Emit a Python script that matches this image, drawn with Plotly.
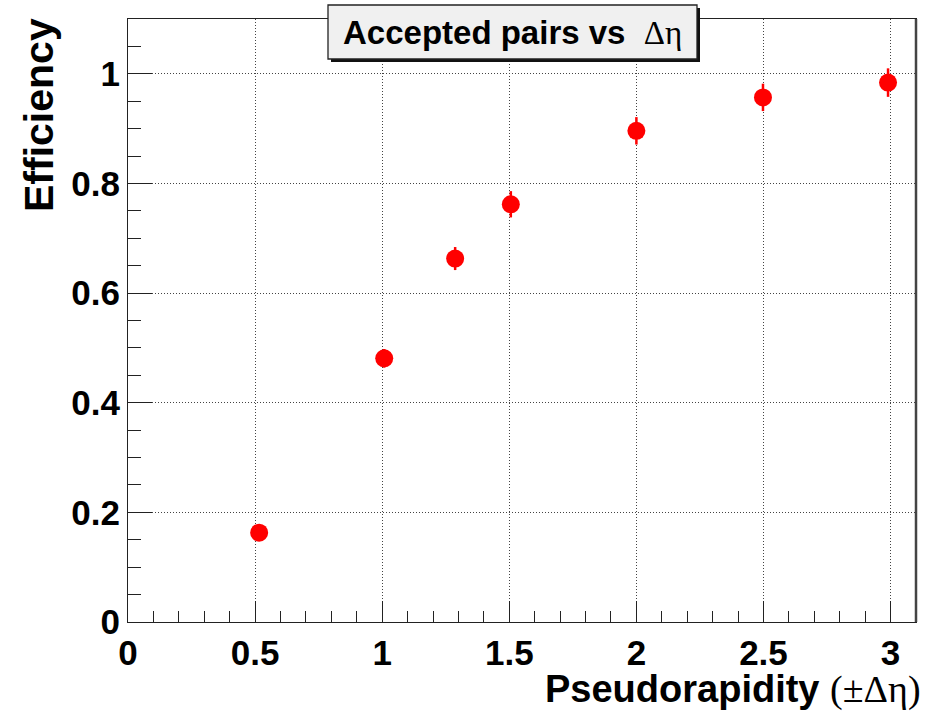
import plotly.graph_objects as go

# Data
eta_cut = [0.516, 1.008, 1.287, 1.506, 2.0, 2.498, 2.99]
efficiency = [0.163, 0.481, 0.663, 0.762, 0.896, 0.957, 0.984]
eff_err = [0.013, 0.017, 0.021, 0.024, 0.025, 0.025, 0.026]

x_ticks = [0, 0.5, 1, 1.5, 2, 2.5, 3]
x_tick_labels = ["0", "0.5", "1", "1.5", "2", "2.5", "3"]
y_ticks = [0, 0.2, 0.4, 0.6, 0.8, 1.0]
y_tick_labels = ["0", "0.2", "0.4", "0.6", "0.8", "1"]

W, H = 927, 712
L, R, T, B = 128, 916, 19, 622  # plot area in pixels

def px(x):
    return (x - L) / (R - L)

def py(y):
    return (B - y) / (B - T)

FONT = "Liberation Sans, Arial, Helvetica, sans-serif"
SERIF = "Liberation Serif, Times New Roman, serif"

fig = go.Figure()
fig.add_trace(go.Scatter(
    x=eta_cut, y=efficiency, mode="markers",
    marker=dict(color="#ff0000", size=18, line=dict(width=0)),
    error_y=dict(type="data", array=eff_err, visible=True,
                 color="#ff0000", thickness=2.5, width=0),
    showlegend=False,
))

axis_common = dict(
    showline=True, linecolor="#222222", linewidth=1.3, mirror=True,
    ticks="inside", tickcolor="#222222", tickwidth=1.3,
    showgrid=True, gridcolor="#444444", gridwidth=1, griddash="1px,2px",
    zeroline=False, automargin=False,
    tickfont=dict(family=FONT, size=35, color="black", weight="bold"),
    tickmode="array",
)

fig.update_xaxes(
    range=[0, 3.1], tickvals=x_ticks, ticktext=x_tick_labels,
    ticklen=21,
    minor=dict(dtick=0.1, ticks="inside", ticklen=11, tickcolor="#222222",
               tickwidth=1.3, showgrid=False),
    **axis_common,
)
fig.update_yaxes(
    range=[0, 1.1], tickvals=y_ticks, ticktext=y_tick_labels,
    ticklen=24,
    minor=dict(dtick=0.05, ticks="inside", ticklen=13, tickcolor="#222222",
               tickwidth=1.3, showgrid=False),
    **axis_common,
)

shapes = []
# thicker right border of frame
shapes.append(dict(type="line", xref="paper", yref="paper",
                   x0=px(916), x1=px(916), y0=py(T), y1=py(B),
                   line=dict(color="#444444", width=2.5)))
# title box shadow and box
shapes.append(dict(type="rect", xref="paper", yref="paper",
                   x0=px(331), x1=px(700), y0=py(8), y1=py(62),
                   fillcolor="#111111", line=dict(width=0), layer="above"))
shapes.append(dict(type="rect", xref="paper", yref="paper",
                   x0=px(328), x1=px(697), y0=py(5), y1=py(59),
                   fillcolor="#f0f0f0", line=dict(color="#222222", width=1.3),
                   layer="above"))

annotations = [
    dict(text="<b>Accepted pairs vs </b> <span style='font-family:" + SERIF + "'>Δη</span>",
         xref="paper", yref="paper", x=px(512), y=py(32),
         xanchor="center", yanchor="middle", showarrow=False,
         font=dict(family=FONT, size=33, color="black")),
    dict(text="<b>Pseudorapidity </b><span style='font-family:" + SERIF + "'>(±Δη)</span>",
         xref="paper", yref="paper", x=px(923), y=py(689),
         xanchor="right", yanchor="middle", showarrow=False,
         font=dict(family=FONT, size=38, color="black")),
    dict(text="<b>Efficiency</b>", textangle=-90,
         xref="paper", yref="paper", x=px(39), y=py(16),
         xanchor="center", yanchor="top", showarrow=False,
         font=dict(family=FONT, size=41, color="black")),
]

fig.update_layout(
    width=W, height=H,
    margin=dict(l=L, r=W - R, t=T, b=H - B, pad=0, autoexpand=False),
    paper_bgcolor="white", plot_bgcolor="white",
    shapes=shapes, annotations=annotations,
    showlegend=False,
)

fig.write_html("out.html",
               config={"displayModeBar": False},
               post_script="document.body.style.margin='0';document.body.style.overflow='hidden';")
